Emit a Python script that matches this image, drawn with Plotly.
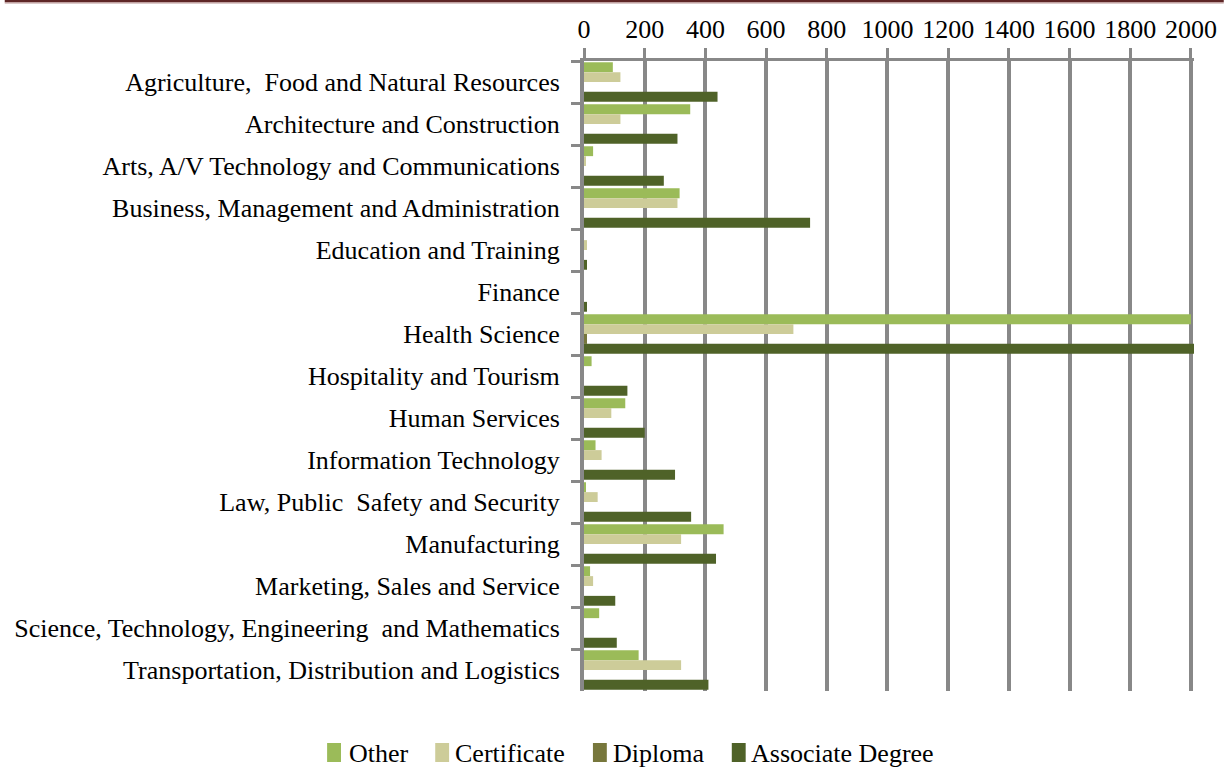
import plotly.graph_objects as go

# Career clusters and completions by credential type
categories = [
    "Agriculture,  Food and Natural Resources",
    "Architecture and Construction",
    "Arts, A/V Technology and Communications",
    "Business, Management and Administration",
    "Education and Training",
    "Finance",
    "Health Science",
    "Hospitality and Tourism",
    "Human Services",
    "Information Technology",
    "Law, Public  Safety and Security",
    "Manufacturing",
    "Marketing, Sales and Service",
    "Science, Technology, Engineering  and Mathematics",
    "Transportation, Distribution and Logistics",
]

other       = [95, 350, 30, 315, 0, 0, 2000, 25, 136, 38, 5, 460, 20, 50, 180]
certificate = [120, 120, 5, 308, 10, 0, 690, 0, 90, 58, 45, 320, 30, 0, 320]
diploma     = [0, 0, 0, 0, 0, 0, 10, 0, 0, 0, 0, 0, 0, 0, 0]
associate   = [440, 308, 263, 745, 10, 10, 2010, 143, 200, 300, 353, 435, 103, 108, 410]

series_names = ["Other", "Certificate", "Diploma", "Associate Degree"]
series_values = [other, certificate, diploma, associate]
series_colors = ["#9BBB59", "#CDCC99", "#77773C", "#4F6228"]

x_ticks = [0, 200, 400, 600, 800, 1000, 1200, 1400, 1600, 1800, 2000]

W, H = 1229, 767
L, R, T, B = 584, 1199, 61, 691
FONT = "Liberation Serif"
GRID = "#888888"


def px_x(x):
    return (x - L) / (R - L)


def px_y(y):
    return (B - y) / (B - T)


fig = go.Figure()
for name, vals, color in zip(series_names, series_values, series_colors):
    fig.add_trace(go.Bar(
        y=categories, x=vals, name=name, orientation="h",
        marker=dict(color=color, line=dict(width=0)),
        showlegend=False,
    ))

shapes = []
annotations = []

# document header rule at the top of the page
shapes.append(dict(type="rect", xref="paper", yref="paper",
                   x0=px_x(0), x1=px_x(W), y0=px_y(0), y1=px_y(2.2),
                   fillcolor="#5E2626", line=dict(width=0), layer="above"))
shapes.append(dict(type="rect", xref="paper", yref="paper",
                   x0=px_x(0), x1=px_x(W), y0=px_y(2.2), y1=px_y(3.6),
                   fillcolor="#B89494", line=dict(width=0), layer="above"))

# legend row along the bottom
legend_items = [
    ("Other", series_colors[0], 325, 345),
    ("Certificate", series_colors[1], 434, 452),
    ("Diploma", series_colors[2], 593, 611),
    ("Associate Degree", series_colors[3], 733, 750),
]
for label, color, sx, tx in legend_items:
    shapes.append(dict(type="rect", xref="paper", yref="paper",
                       x0=px_x(sx), x1=px_x(sx + 14), y0=px_y(743), y1=px_y(762),
                       fillcolor=color, line=dict(width=0)))
    annotations.append(dict(xref="paper", yref="paper", x=px_x(tx), y=px_y(753),
                            text=label, showarrow=False, xanchor="left", yanchor="middle",
                            font=dict(family=FONT, size=26, color="#000000")))

fig.update_layout(
    width=W, height=H, autosize=False,
    margin=dict(l=L, r=W - R, t=T, b=H - B, pad=0),
    paper_bgcolor="white", plot_bgcolor="white",
    barmode="group", bargap=0.06, bargroupgap=0.0,
    font=dict(family=FONT, size=26, color="#000000"),
    shapes=shapes, annotations=annotations,
    xaxis=dict(
        side="top", range=[0, 2010], tickvals=x_ticks,
        ticktext=[str(v) for v in x_ticks],
        showgrid=True, gridcolor=GRID, gridwidth=4,
        showline=True, linecolor=GRID, linewidth=3,
        ticks="outside", ticklen=10, tickwidth=3, tickcolor=GRID,
        tickfont=dict(family=FONT, size=26, color="#000000"),
        zeroline=False, fixedrange=True,
    ),
    yaxis=dict(
        type="category", autorange="reversed",
        showgrid=False, showline=True, linecolor=GRID, linewidth=4,
        ticks="outside", ticklen=9, tickwidth=3, tickcolor=GRID,
        tickson="boundaries", ticklabelstandoff=15,
        tickfont=dict(family=FONT, size=26, color="#000000"),
        fixedrange=True,
    ),
)

fig.write_html("out.html")
